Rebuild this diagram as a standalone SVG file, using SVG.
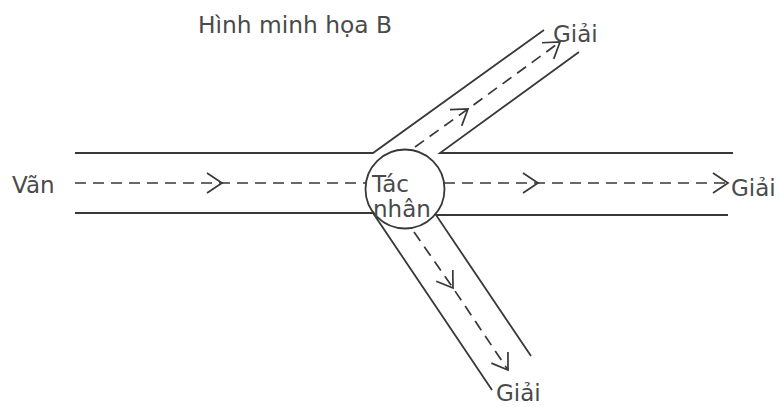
<svg xmlns="http://www.w3.org/2000/svg" width="780" height="407" viewBox="0 0 780 407">
<defs>
<style>
.wall{stroke:#383838;stroke-width:1.8;fill:none}
.flow{stroke:#383838;stroke-width:1.7;fill:none;stroke-dasharray:11 7;marker-mid:url(#chev)}
.flowend{marker-end:url(#chev)}
.lbl{font-family:"DejaVu Sans",sans-serif;font-size:23px;fill:#4a4a4a}
</style>
<marker id="chev" markerUnits="userSpaceOnUse" markerWidth="24" markerHeight="24" refX="16" refY="12" orient="auto" overflow="visible">
<path d="M1,2 L16,12 L1,22" fill="none" stroke="#383838" stroke-width="1.7" stroke-dasharray="none"/>
</marker>
</defs>
<rect width="780" height="407" fill="#fff"/>
<text class="lbl" x="198" y="33" textLength="194" lengthAdjust="spacingAndGlyphs">Hình minh họa B</text>
<g id="connectors">
<path class="wall" d="M75,153 H373 L544,30"/>
<path class="wall" d="M579,52 L440,153 H733"/>
<path class="wall" d="M75,213 H373 L492,390"/>
<path class="wall" d="M531,356 L436,215 H728"/>
<polyline class="flow" points="75,183 222,183 366,183"/>
<polyline class="flow flowend" points="444,183 538,183 728,183"/>
<polyline class="flow flowend" points="415,147 468,109 560,42"/>
<polyline class="flow flowend" points="414,232 453,288 508,370"/>
</g>
<g id="agent">
<circle cx="405" cy="189" r="39.5" fill="#fff" stroke="#383838" stroke-width="1.8"/>
<text class="lbl" x="372" y="192">Tác</text>
<text class="lbl" x="373" y="217">nhân</text>
</g>
<g id="source"><text class="lbl" x="12" y="193">Vãn</text></g>
<g id="product-top"><text class="lbl" x="553" y="42">Giải</text></g>
<g id="product-right"><text class="lbl" x="731" y="196">Giải</text></g>
<g id="product-bottom"><text class="lbl" x="496" y="401">Giải</text></g>
</svg>
